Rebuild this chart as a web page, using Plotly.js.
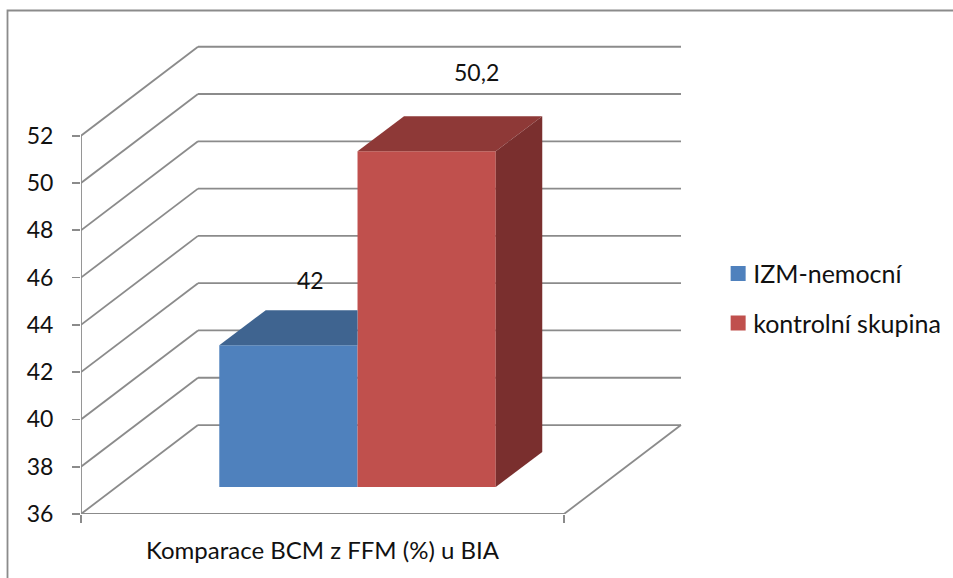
<!DOCTYPE html>
<html>
<head>
<meta charset="utf-8">
<script src="https://cdn.plot.ly/plotly-3.0.1.min.js"></script>
<style>html,body{margin:0;padding:0;background:#fff;overflow:hidden}#chart{width:953px;height:578px}</style>
</head>
<body>
<div id="chart"></div>
<script>
// Values of the chart
const categoryLabel = 'Komparace BCM z FFM (%) u BIA';
const seriesNames = ['IZM-nemocní', 'kontrolní skupina'];
const seriesValues = [42, 50.2];
const valueTicks = [36, 38, 40, 42, 44, 46, 48, 50, 52];

// Styling
const frontColors = ['#4F81BD', '#C0504D'];
const topColors = ['#3F6490', '#8E3937'];
const sideColor = '#7A2F2E';
const wallColor = '#8B8B8B';
const wallWidth = 1.8;
const fontFamily = 'Lato, "Open Sans", sans-serif';
const digitFont = {family: fontFamily, size: 23, color: '#111'};
const labelFont = {family: fontFamily, size: 24, color: '#111'};
const legendFont = {family: fontFamily, size: 25, color: '#111'};

// Oblique projection of the box, expressed in axis units
const W = 953, H = 578;
const plot = {l: 81, r: 263, t: 30, b: 63.7, autoexpand: false};
const pxX = 483, pxY = 23.66;               // pixels per x unit / per value unit
const floorValue = valueTicks[0];
const topValue = valueTicks[valueTicks.length - 1];
const wallDx = 117 / pxX, wallDy = 89 / pxY; // front edge to back wall
const barBase = floorValue + 27 / pxY;      // bars stand part-way into the floor
const barLeft = 0.2863, barW = 0.2862;
const barDx = 46.5 / pxX, barDy = 35 / pxY; // bar depth
const xMax = (W - plot.l - plot.r) / pxX;
const yMax = floorValue + (H - plot.t - plot.b) / pxY;

const top_ = v => barBase + (v - floorValue);
const line = (x0, y0, x1, y1) => ({type: 'line', xref: 'x', yref: 'y', layer: 'below', x0, y0, x1, y1,
  line: {color: wallColor, width: wallWidth}});

// Walls and floor
const shapes = [];
valueTicks.forEach(v => {
  shapes.push(line(0, v, wallDx, v + wallDy));
  shapes.push(line(wallDx, v + wallDy, 1 + wallDx, v + wallDy));
});
shapes.push(line(0, floorValue, 0, topValue));
shapes.push(line(0, floorValue, 1, floorValue));
shapes.push(line(1, floorValue, 1 + wallDx, floorValue + wallDy));

// Outer chart frame: only its top and left edges fall inside the page
const fx = px => (px - plot.l) / (W - plot.l - plot.r);
const fy = py => 1 - (py - plot.t) / (H - plot.t - plot.b);
shapes.push({type: 'rect', xref: 'paper', yref: 'paper', layer: 'below',
  x0: fx(7.5), x1: fx(W + 20), y0: fy(H + 20), y1: fy(10.5),
  line: {color: wallColor, width: 1.8}});

const traces = [];
seriesValues.forEach((v, i) => {
  const left = barLeft + i * barW, right = left + barW, t = top_(v);
  traces.push({type: 'bar', x: [left + barW / 2], y: [v - floorValue], base: [barBase], width: [barW],
    marker: {color: frontColors[i], line: {width: 0}}, showlegend: false, hoverinfo: 'skip', name: seriesNames[i]});
  // The taller neighbour hides the back-right corner of a lower bar
  const hidden = i < seriesValues.length - 1 && seriesValues[i + 1] > v;
  const topX = hidden ? [left, right, right, left + barDx] : [left, right, right + barDx, left + barDx];
  traces.push({type: 'scatter', mode: 'lines', x: topX.concat(left), y: [t, t, t + barDy, t + barDy, t], fill: 'toself',
    fillcolor: topColors[i], line: {width: 0}, showlegend: false, hoverinfo: 'skip'});
  if (!hidden) {
    traces.push({type: 'scatter', mode: 'lines', x: [right, right + barDx, right + barDx, right, right],
      y: [t, t + barDy, barBase + barDy, barBase, t], fill: 'toself', fillcolor: sideColor,
      line: {width: 0}, showlegend: false, hoverinfo: 'skip'});
  }
});
// Legend entries with square keys
seriesNames.forEach((n, i) => traces.push({type: 'scatter', mode: 'markers', x: [null], y: [null], name: n,
  legendgroup: n, marker: {symbol: 'square', size: 15, color: frontColors[i]}, hoverinfo: 'skip'}));

const labelShift = [[22, 65], [50, 79.7]];
const annotations = seriesValues.map((v, i) => ({
  x: barLeft + i * barW + barW / 2, y: top_(v), xref: 'x', yref: 'y',
  text: String(v).replace('.', ','), showarrow: false, font: digitFont,
  xanchor: 'center', yanchor: 'middle', xshift: labelShift[i][0], yshift: labelShift[i][1]
}));

const layout = {
  width: W, height: H, autosize: false,
  paper_bgcolor: '#fff', plot_bgcolor: 'rgba(0,0,0,0)',
  margin: plot, barmode: 'overlay', shapes, annotations,
  font: labelFont,
  xaxis: {range: [0, xMax], showgrid: false, zeroline: false, showline: false, fixedrange: true,
    tickmode: 'array', tickvals: [0.5], ticktext: [categoryLabel], ticks: '', ticklabelstandoff: 20, tickangle: 0,
    tickfont: labelFont,
    minor: {tickmode: 'array', tickvals: [0, 1], ticks: 'outside', ticklen: 8, tickwidth: wallWidth, tickcolor: wallColor, showgrid: false}},
  yaxis: {range: [floorValue, yMax], showgrid: false, zeroline: false, showline: false, fixedrange: true,
    tickmode: 'array', tickvals: valueTicks, ticks: 'outside', ticklen: 8, tickwidth: wallWidth, tickcolor: wallColor,
    tickfont: digitFont, ticklabelstandoff: 14},
  legend: {x: 1.038, xanchor: 'left', y: 0.544, yanchor: 'top', tracegroupgap: 14, bgcolor: 'rgba(0,0,0,0)', font: legendFont, itemsizing: 'trace'}
};

Plotly.newPlot('chart', traces, layout, {displayModeBar: false, staticPlot: true}).then(() => {
  // Keep the keys close to their labels
  document.querySelectorAll('#chart .legendpoints').forEach(g => g.setAttribute('transform', 'translate(5,0)'));
});
</script>
</body>
</html>
